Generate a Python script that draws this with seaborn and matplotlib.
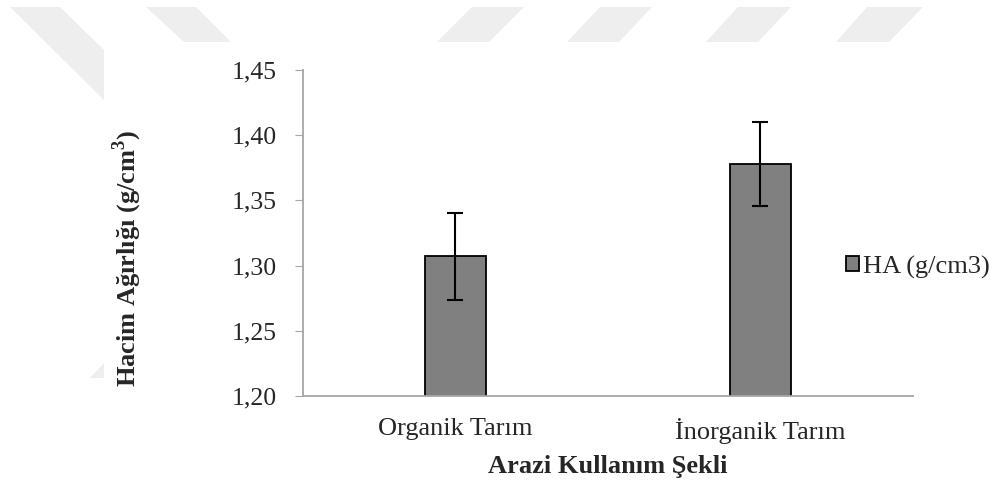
import numpy as np
import pandas as pd
import matplotlib.pyplot as plt
from matplotlib.patches import Polygon
from matplotlib.ticker import FuncFormatter
import seaborn as sns

# Data
categories = ['Organik Tarım', 'İnorganik Tarım']
ha_means = [1.307, 1.378]
ha_sd = [0.033, 0.032]
series_name = 'HA (g/cm3)'
y_ticks = [1.20, 1.25, 1.30, 1.35, 1.40, 1.45]

df = pd.DataFrame({'kullanim': categories, 'ha': ha_means})

sns.set_style('white')
plt.rcParams['font.family'] = ['Liberation Serif', 'DejaVu Serif']

fig = plt.figure(figsize=(9.92, 4.84), dpi=100)
ax = fig.add_axes([0.3054, 0.1818, 0.6149, 0.6736])

# faint watermark shapes (pixel outlines of the background logo)
wm = [[(10, 7), (60, 7), (104, 50), (104, 100)],
      [(146, 7), (196, 7), (231, 42), (184, 42)],
      [(472, 7), (524, 7), (489, 42), (437, 42)],
      [(600, 7), (652, 7), (619, 42), (567, 42)],
      [(738, 7), (791, 7), (758, 42), (706, 42)],
      [(867, 7), (923, 7), (889, 42), (836, 42)],
      [(90, 378), (104, 363), (104, 378)]]
for shp in wm:
    pts = [(px / 992, 1 - py / 484) for px, py in shp]
    fig.patches.append(Polygon(pts, closed=True, transform=fig.transFigure,
                               facecolor='#eeeeee', edgecolor='none', zorder=0))

sns.barplot(data=df, x='kullanim', y='ha', color='#808080', width=0.2,
            edgecolor='black', linewidth=1.3, saturation=1, errorbar=None,
            ax=ax, label=series_name)
ax.errorbar(x=np.arange(len(categories)), y=ha_means, yerr=ha_sd, fmt='none',
            ecolor='black', elinewidth=1.5, capsize=6, capthick=1.5)

ax.set_ylim(1.20, 1.45)
ax.set_yticks(y_ticks)
ax.yaxis.set_major_formatter(FuncFormatter(lambda v, p: f'{v:.2f}'.replace('.', ',')))
ax.set_xlim(-0.5, 1.5)

for s in ['top', 'right']:
    ax.spines[s].set_visible(False)
for s in ['left', 'bottom']:
    ax.spines[s].set_color('#a6a6a6')
    ax.spines[s].set_linewidth(1.3)

ax.tick_params(axis='y', left=True, length=6, color='#a6a6a6', labelsize=18.5, pad=13)
ax.tick_params(axis='x', bottom=False, labelsize=19, pad=12)

ax.set_ylabel('Hacim Ağırlığı (g/cm$^\\mathregular{3}$)', fontsize=19, fontweight='bold')
ax.yaxis.set_label_coords(-0.26, 0.423)
ax.set_xlabel('Arazi Kullanım Şekli', fontsize=19, fontweight='bold', labelpad=8)

ax.legend(loc='center left', bbox_to_anchor=(0.853, 0.448), bbox_transform=fig.transFigure,
          frameon=False, fontsize=19, handlelength=0.5, handleheight=0.5, handletextpad=0.15,
          borderaxespad=0, borderpad=0)

fig.savefig('out.png', dpi=100, facecolor='white')
